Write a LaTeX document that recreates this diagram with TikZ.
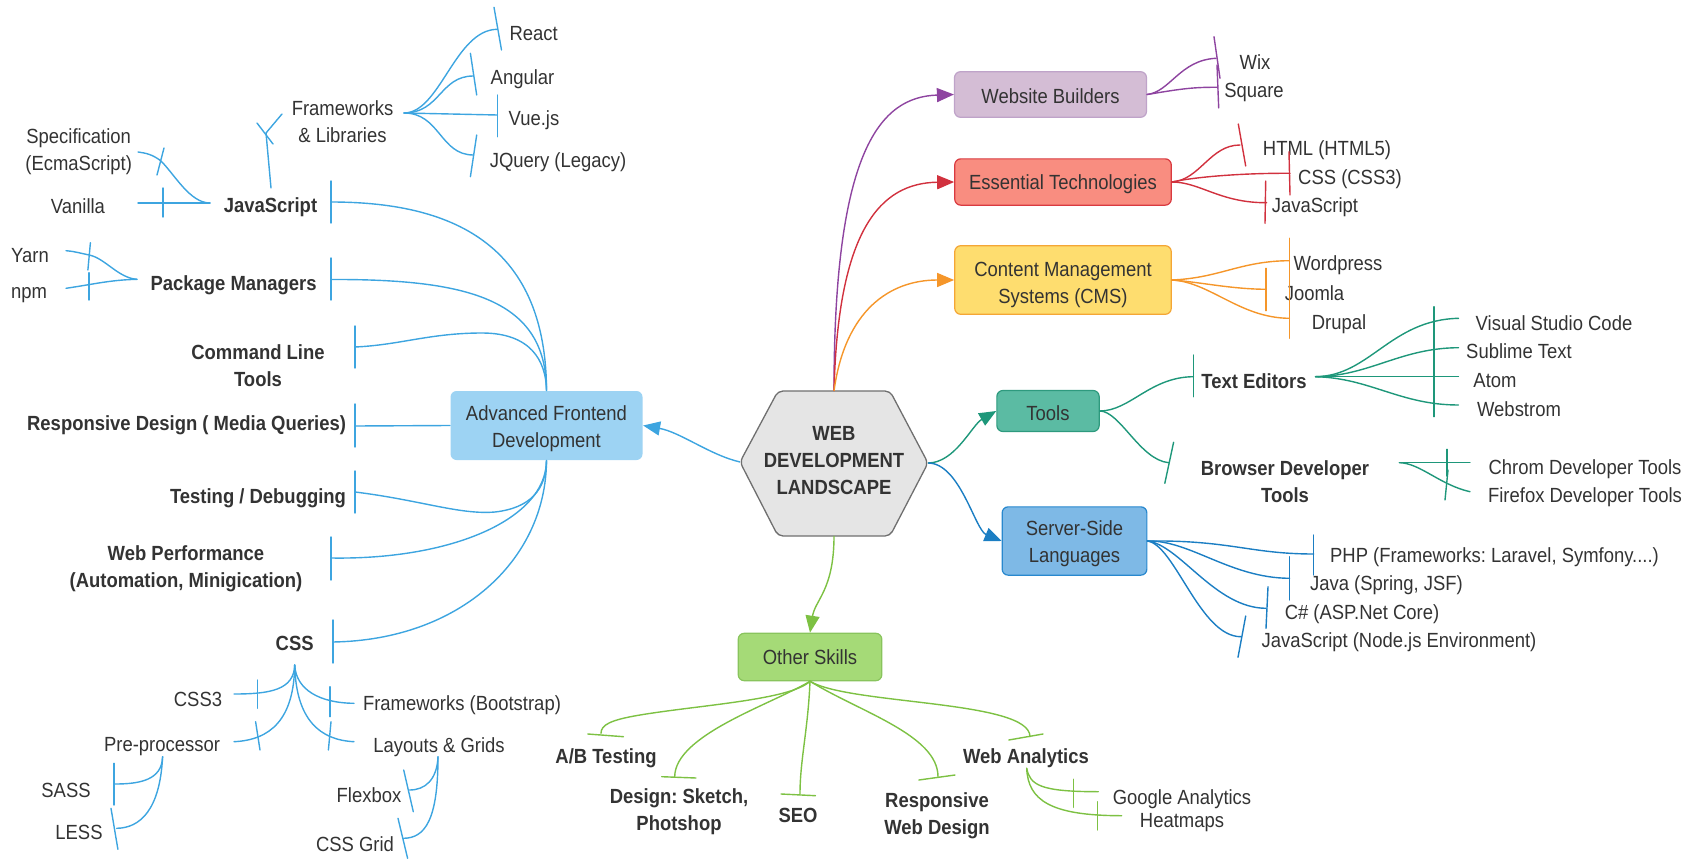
\documentclass[tikz,border=0pt]{standalone}
\usepackage{fontspec}
\setmainfont{Liberation Sans}[FakeStretch=0.9]
\usetikzlibrary{arrows.meta,calc}
\frenchspacing
\definecolor{tx}{HTML}{333333}
\definecolor{cFB}{HTML}{3DA5E0}
\definecolor{cFBfill}{HTML}{9DD3F3}
\definecolor{cPU}{HTML}{8E44A0}
\definecolor{cPUfill}{HTML}{D4BDD5}
\definecolor{cPUbd}{HTML}{BFA3C9}
\definecolor{cRD}{HTML}{D1313E}
\definecolor{cRDfill}{HTML}{F98D80}
\definecolor{cRDbd}{HTML}{D93A40}
\definecolor{cOR}{HTML}{F5962A}
\definecolor{cORfill}{HTML}{FEDD6F}
\definecolor{cORbd}{HTML}{F4A636}
\definecolor{cTE}{HTML}{1E977A}
\definecolor{cTEfill}{HTML}{5BBBA3}
\definecolor{cTEbd}{HTML}{2E9A7E}
\definecolor{cSV}{HTML}{1B7EC3}
\definecolor{cSVfill}{HTML}{7EB9E6}
\definecolor{cSVbd}{HTML}{2888CE}
\definecolor{cGR}{HTML}{7DC143}
\definecolor{cGRfill}{HTML}{A5DA77}
\definecolor{cGRbd}{HTML}{89C45D}
\definecolor{cHUB}{HTML}{E5E5E5}
\definecolor{cHUBbd}{HTML}{6F6F6F}
\begin{document}
\frenchspacing
\begin{tikzpicture}[x=1pt,y=-1pt,
  lbl/.style={font=\fontsize{20.5}{27}\selectfont\frenchspacing, text=tx, inner sep=0pt, align=center, yshift=-2pt},
  blbl/.style={font=\fontsize{20.5}{27}\selectfont\bfseries\frenchspacing, text=tx, inner sep=0pt, align=center, yshift=-2pt},
  conn/.style={line width=1.4pt, line cap=round},
  arr/.style={line width=1.4pt, -{Triangle[length=17pt,width=14pt]}},
  tbox/.style={rounded corners=6pt, line width=1.2pt, inner sep=0pt},
  fbl/.style={conn, draw=cFB},
  pul/.style={conn, draw=cPU},
  rdl/.style={conn, draw=cRD},
  orl/.style={conn, draw=cOR},
  tel/.style={conn, draw=cTE},
  svl/.style={conn, draw=cSV},
  grl/.style={conn, draw=cGR}]
\useasboundingbox (0,0) rectangle (1698,859);

% ---------- hub ----------
\coordinate (hubL) at (740,462);
\coordinate (hubT) at (834,391);
\coordinate (hubR) at (928,463);
\coordinate (hubB) at (834,536);
\draw[fill=cHUB, draw=cHUBbd, line width=1.3pt, rounded corners=5pt]
  (hubL) -- (778,391) -- (890,391) -- (hubR) -- (890,536) -- (778,536) -- cycle;
\node[blbl] (hub) at (834,458.5) {WEB\\DEVELOPMENT\\LANDSCAPE};

% ---------- main boxes ----------
\node[tbox, fill=cFBfill, draw=none, minimum width=192pt, minimum height=69pt] (afd) at (546.5,425.5) {};
\node[lbl] (afdT) at (546.5,426.5) {Advanced Frontend\\Development};
\node[tbox, fill=cPUfill, draw=cPUbd, minimum width=192pt, minimum height=45.6pt] (wb) at (1050.5,94.5) {};
\node[lbl] (wbT) at (wb.center) {Website Builders};
\node[tbox, fill=cRDfill, draw=cRDbd, minimum width=216.5pt, minimum height=46.3pt] (et) at (1063,182) {};
\node[lbl] (etT) at (et.center) {Essential Technologies};
\node[tbox, fill=cORfill, draw=cORbd, minimum width=216.5pt, minimum height=68.6pt] (cms) at (1063,280) {};
\node[lbl] (cmsT) at (1063,283) {Content Management\\Systems (CMS)};
\node[tbox, fill=cTEfill, draw=cTEbd, minimum width=102.3pt, minimum height=41pt] (tools) at (1048,411) {};
\node[lbl] (toolsT) at (tools.center) {Tools};
\node[tbox, fill=cSVfill, draw=cSVbd, minimum width=144.7pt, minimum height=68.3pt] (ssl) at (1074.5,541) {};
\node[lbl] (sslT) at (1074.5,542) {Server-Side\\Languages};
\node[tbox, fill=cGRfill, draw=cGRbd, minimum width=143.6pt, minimum height=47.4pt] (other) at (810,657) {};
\node[lbl] (otherT) at (810,655) {Other Skills};

% ---------- arrows from hub ----------
\draw[arr, cPU] (hubT) .. controls (834,150) and (880,97) .. (wb.west);
\draw[arr, cRD] (hubT) .. controls (838,230) and (880,183) .. (et.west);
\draw[arr, cOR] (hubT) .. controls (845,310) and (890,280) .. (cms.west);
\draw[arr, cTE] (hubR) .. controls (955,463) and (972,425) .. (tools.west);
\draw[arr, cSV] (hubR) .. controls (960,463) and (975,530) .. (ssl.west);
\draw[arr, cGR] (hubB) .. controls (834,590) and (815,600) .. (other.north);
\draw[arr, cFB] (hubL) .. controls (710,455) and (680,432) .. (afd.east);

% ---------- frontend labels ----------
\node[blbl] (js) at (270.5,205) {JavaScript};
\node[lbl] (fw) at (342.5,120) {Frameworks\\\& Libraries};
\node[lbl] (react) at (533.6,31.7) {React};
\node[lbl] (angular) at (522.5,77.3) {Angular};
\node[lbl] (vue) at (534,118.3) {Vue.js};
\node[lbl] (jquery) at (558,160) {JQuery (Legacy)};
\node[lbl] (spec) at (78.7,150) {Specification\\(EcmaScript)};
\node[lbl] (vanilla) at (78,204) {Vanilla};
\node[blbl] (pm) at (233.6,283) {Package Managers};
\node[lbl] (yarn) at (30,254) {Yarn};
\node[lbl] (npm) at (29,292.7) {npm};
\node[blbl] (clt) at (258,363.7) {Command Line\\Tools};
\node[blbl] (rdq) at (186.6,423.3) {Responsive Design ( Media Queries)};
\node[blbl] (tdb) at (258,496.7) {Testing / Debugging};
\node[blbl] (wperf) at (186,567) {Web Performance\\(Automation, Minigication)};
\node[blbl] (css) at (294.7,641.7) {CSS};
\node[lbl] (css3) at (198,697.5) {CSS3};
\node[lbl] (pre) at (162,745) {Pre-processor};
\node[lbl] (fwb) at (462,702.7) {Frameworks (Bootstrap)};
\node[lbl] (lg) at (439,745) {Layouts \& Grids};
\node[lbl] (sass) at (66,788.5) {SASS};
\node[lbl] (less) at (79,830.7) {LESS};
\node[lbl] (flex) at (369,793) {Flexbox};
\node[lbl] (grid) at (355,842) {CSS Grid};

% ---------- frontend connectors ----------
\coordinate (jsE) at (331,202);
\coordinate (pmE) at (331,279.5);
\coordinate (cltE) at (355,347);
\coordinate (rdE) at (355,426);
\coordinate (tdE) at (355,492);
\coordinate (wpE) at (331,558);
\coordinate (cssE) at (333,642);
\draw[fbl] (jsE) .. controls (460,202) and (546,250) .. (afd.north);
\draw[fbl] (331,181) -- (331,223);
\draw[fbl] (pmE) .. controls (470,279) and (546,300) .. (afd.north);
\draw[fbl] (331,258) -- (331,300);
\draw[fbl] (cltE) .. controls (400,345) and (430,333) .. (482,333) .. controls (530,333) and (546,360) .. (afd.north);
\draw[fbl] (355,326) -- (355,368);
\draw[fbl] (rdE) -- (afd.west);
\draw[fbl] (355,404) -- (355,447);
\draw[fbl] (tdE) .. controls (420,500) and (460,515) .. (495,512) .. controls (530,508) and (546,490) .. (afd.south);
\draw[fbl] (355,471) -- (355,513);
\draw[fbl] (wpE) .. controls (450,560) and (546,520) .. (afd.south);
\draw[fbl] (331,537) -- (331,580);
\draw[fbl] (cssE) .. controls (460,640) and (546,560) .. (afd.south);
\draw[fbl] (333,620) -- (333,663);

% JavaScript children
\coordinate (jsW) at (210,203);
\coordinate (jsN) at (271,188);
\draw[fbl] (jsW) .. controls (190,203) and (175,175) .. (161,161) .. controls (152,154) and (145,153) .. (138,152);
\draw[fbl] (164,148) -- (157,175);
\draw[fbl] (jsW) -- (138,203);
\draw[fbl] (163,188) -- (163,217);
\draw[fbl] (jsN) -- (266,133) -- (282,114);
\draw[fbl] (257,123) -- (273,144);
% frameworks children
\coordinate (fwE) at (404,113);
\draw[fbl] (fwE) .. controls (440,113) and (455,30) .. (497,29.3);
\draw[fbl] (494,7.3) -- (501.5,50);
\draw[fbl] (fwE) .. controls (440,113) and (440,76) .. (473.4,76);
\draw[fbl] (470.4,53.3) -- (476.7,95);
\draw[fbl] (fwE) -- (497.4,115);
\draw[fbl] (497.4,95) -- (497.4,136.7);
\draw[fbl] (fwE) .. controls (440,113) and (440,155) .. (473.4,155);
\draw[fbl] (476.7,135) -- (470.4,176.7);
% package managers children
\coordinate (pmW) at (137,279.3);
\draw[fbl] (pmW) .. controls (118,278) and (105,258) .. (89,255) .. controls (80,253) and (72,251) .. (66,250.7);
\draw[fbl] (90.4,242.7) -- (87.9,270);
\draw[fbl] (pmW) .. controls (110,280) and (95,284) .. (66,288.3);
\draw[fbl] (89,272.7) -- (89,300);
% CSS children
\coordinate (cssS) at (294.7,665);
\draw[fbl] (cssS) .. controls (294,690) and (270,694) .. (234,694);
\draw[fbl] (257.6,680) -- (257.6,708.3);
\draw[fbl] (cssS) .. controls (294,720) and (270,740) .. (234,741.7);
\draw[fbl] (255.6,721.7) -- (260,750);
\draw[fbl] (cssS) .. controls (296,690) and (320,703) .. (354,703.3);
\draw[fbl] (330,686.7) -- (330,716.7);
\draw[fbl] (cssS) .. controls (296,720) and (320,740) .. (354,741.7);
\draw[fbl] (331,721.7) -- (328.4,750);
\coordinate (preS) at (162.6,756.7);
\draw[fbl] (preS) .. controls (162,780) and (140,784) .. (114.8,784);
\draw[fbl] (114,763.3) -- (114,805);
\draw[fbl] (preS) .. controls (160,810) and (140,828) .. (116.7,828.3);
\draw[fbl] (111,808.3) -- (117.9,849.3);
\coordinate (lgS) at (438,756.7);
\draw[fbl] (lgS) .. controls (437,780) and (425,790) .. (409.5,790);
\draw[fbl] (403.7,770) -- (413.3,811.7);
\draw[fbl] (lgS) .. controls (438,820) and (425,838) .. (403.7,838.3);
\draw[fbl] (398,818.3) -- (407.6,858.3);

% ---------- right side labels ----------
\node[lbl] (wix) at (1255,60) {Wix};
\node[lbl] (square) at (1254,90) {Square};
\node[lbl] (html) at (1327,148) {HTML (HTML5)};
\node[lbl] (csse) at (1350,177) {CSS (CSS3)};
\node[lbl] (jse) at (1315,205) {JavaScript};
\node[lbl] (wordpress) at (1338,263) {Wordpress};
\node[lbl] (joomla) at (1314.5,291) {Joomla};
\node[lbl] (drupal) at (1339,322) {Drupal};
\node[blbl] (te) at (1254,379) {Text Editors};
\node[lbl] (vsc) at (1554,320.7) {Visual Studio Code};
\node[lbl] (subl) at (1519,349) {Sublime Text};
\node[lbl] (atom) at (1495,379) {Atom};
\node[lbl] (webstrom) at (1519,407) {Webstrom};
\node[blbl] (bdt) at (1285,480) {Browser Developer\\Tools};
\node[lbl] (chrome) at (1585,466.7) {Chrom Developer Tools};
\node[lbl] (firefox) at (1585,495.5) {Firefox Developer Tools};
\node[lbl] (php) at (1494.5,555) {PHP (Frameworks: Laravel, Symfony....)};
\node[lbl] (java) at (1386.5,582.7) {Java (Spring, JSF)};
\node[lbl] (csharp) at (1362,611.7) {C\# (ASP.Net Core)};
\node[lbl] (jsnode) at (1399,640.5) {JavaScript (Node.js Environment)};

% website builders
\draw[pul] (wb.east) .. controls (1170,92) and (1180,60) .. (1216,58.3);
\draw[pul] (1214,36.7) -- (1220,78.3);
\draw[pul] (wb.east) .. controls (1175,90) and (1190,87) .. (1216.7,87.3);
\draw[pul] (1217,65) -- (1218.7,108);
% essential
\draw[rdl] (et.east) .. controls (1200,180) and (1210,145) .. (1240,145);
\draw[rdl] (1238.3,124) -- (1245.7,166);
\draw[rdl] (et.east) .. controls (1200,176) and (1250,173) .. (1290,173.3);
\draw[rdl] (1289,151.7) -- (1290,195);
\draw[rdl] (et.east) .. controls (1200,182) and (1220,203) .. (1266.7,202.7);
\draw[rdl] (1265.7,181) -- (1265,223.3);
% cms
\draw[orl] (cms.east) .. controls (1220,278) and (1240,261) .. (1289.3,260.7);
\draw[orl] (1289.3,238.3) -- (1289.3,290);
\draw[orl] (cms.east) .. controls (1200,282) and (1230,289) .. (1266,289.3);
\draw[orl] (1266,268.3) -- (1266,310.7);
\draw[orl] (cms.east) .. controls (1210,282) and (1240,318) .. (1289.3,318.3);
\draw[orl] (1289.3,290) -- (1289.3,338.3);
% tools
\draw[tel] (tools.east) .. controls (1130,411) and (1150,377) .. (1193.4,376.7);
\draw[tel] (1193.4,355) -- (1193.4,396.7);
\draw[tel] (tools.east) .. controls (1120,411) and (1140,460) .. (1168.7,462.7);
\draw[tel] (1173.6,442.3) -- (1164.8,483.3);
\coordinate (teE) at (1315.5,376.7);
\draw[tel] (teE) .. controls (1370,376) and (1390,320) .. (1458.5,318.3);
\draw[tel] (teE) .. controls (1370,376) and (1400,348) .. (1458.5,347.7);
\draw[tel] (teE) -- (1458.5,376.7);
\draw[tel] (teE) .. controls (1370,378) and (1400,405) .. (1458.5,405);
\draw[tel] (1434,306.7) -- (1434,416.7);
\coordinate (bdtE) at (1399.4,462.7);
\draw[tel] (bdtE) -- (1470,462.7);
\draw[tel] (1447,449.3) -- (1447,476);
\draw[tel] (bdtE) .. controls (1420,463) and (1440,485) .. (1470,491.7);
\draw[tel] (1448,470) -- (1445,500);
% server side
\draw[svl] (ssl.east) .. controls (1230,540) and (1250,554) .. (1313.6,554);
\draw[svl] (1313.6,535) -- (1313.6,575);
\draw[svl] (ssl.east) .. controls (1190,540) and (1230,578) .. (1289.6,578.3);
\draw[svl] (1289.6,556.7) -- (1289.6,600);
\draw[svl] (ssl.east) .. controls (1180,545) and (1215,608) .. (1266,608.3);
\draw[svl] (1268,586.7) -- (1266,628.3);
\draw[svl] (ssl.east) .. controls (1175,545) and (1200,637) .. (1241,636.7);
\draw[svl] (1245.7,616) -- (1238,657.3);

% ---------- other skills ----------
\node[blbl] (ab) at (606,756) {A/B Testing};
\node[blbl] (design) at (679,810) {Design: Sketch,\\Photshop};
\node[blbl] (seo) at (798,813) {SEO};
\node[blbl] (rwd) at (937,813.5) {Responsive\\Web Design};
\node[blbl] (wa) at (1026,756) {Web Analytics};
\node[lbl] (ga) at (1182,797) {Google Analytics};
\node[lbl] (heat) at (1182,820.5) {Heatmaps};
\draw[grl] (other.south) .. controls (790,700) and (700,705) .. (640,715) .. controls (610,720) and (601,725) .. (601,733.3);
\draw[grl] (587.8,734) -- (623.4,736.7);
\draw[grl] (other.south) .. controls (770,705) and (675,735) .. (674.7,776.7);
\draw[grl] (661.7,776.7) -- (696,778);
\draw[grl] (other.south) .. controls (808,730) and (800,760) .. (800,794);
\draw[grl] (781,794) -- (815.5,795.7);
\draw[grl] (other.south) .. controls (860,712) and (938,735) .. (938,776.7);
\draw[grl] (918.9,780) -- (955,775);
\draw[grl] (other.south) .. controls (850,705) and (1030,700) .. (1030,736.7);
\draw[grl] (1008.8,740) -- (1043,734);
\coordinate (waS) at (1026.7,768.3);
\draw[grl] (waS) .. controls (1030,785) and (1040,791.7) .. (1098.3,791.7);
\draw[grl] (1073.3,779.3) -- (1073.3,807.3);
\draw[grl] (waS) .. controls (1028,800) and (1050,815.7) .. (1121.7,815.7);
\draw[grl] (1097.3,801.7) -- (1097.3,830);
\end{tikzpicture}
\end{document}
